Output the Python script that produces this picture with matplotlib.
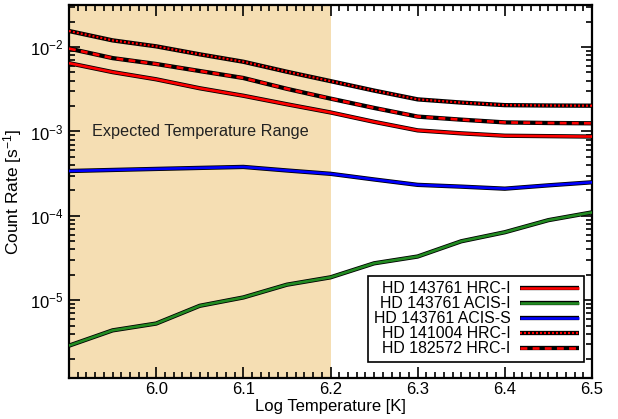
import matplotlib
matplotlib.use("Agg")
import matplotlib.pyplot as plt
from matplotlib.ticker import LogLocator, MultipleLocator, FixedLocator, NullFormatter

plt.rcParams['font.family'] = ['Liberation Sans', 'DejaVu Sans']
plt.rcParams['mathtext.fontset'] = 'custom'
plt.rcParams['mathtext.rm'] = 'Liberation Sans'
plt.rcParams['mathtext.it'] = 'Liberation Sans'

log_t = [5.90, 5.95, 6.00, 6.05, 6.10, 6.15, 6.20, 6.25, 6.30, 6.35, 6.40, 6.45, 6.50]
hd143761_hrci = [6.45e-3, 5.05e-3, 4.15e-3, 3.25e-3, 2.65e-3, 2.1e-3, 1.68e-3, 1.3e-3, 1.03e-3, 9.5e-4, 8.9e-4, 8.8e-4, 8.7e-4]
hd143761_acisi = [2.9e-6, 4.4e-6, 5.3e-6, 8.6e-6, 1.08e-5, 1.53e-5, 1.87e-5, 2.74e-5, 3.3e-5, 5.0e-5, 6.4e-5, 8.9e-5, 1.1e-4]
hd143761_aciss = [3.4e-4, 3.5e-4, 3.6e-4, 3.7e-4, 3.8e-4, 3.45e-4, 3.15e-4, 2.7e-4, 2.33e-4, 2.22e-4, 2.1e-4, 2.3e-4, 2.5e-4]
hd141004_hrci = [1.55e-2, 1.2e-2, 1.02e-2, 8.2e-3, 6.7e-3, 5.1e-3, 3.95e-3, 3.05e-3, 2.4e-3, 2.2e-3, 2.05e-3, 2.03e-3, 2.02e-3]
hd182572_hrci = [9.6e-3, 7.4e-3, 6.3e-3, 5.2e-3, 4.3e-3, 3.2e-3, 2.45e-3, 1.9e-3, 1.5e-3, 1.38e-3, 1.28e-3, 1.26e-3, 1.25e-3]

labels = ["HD 143761 HRC-I", "HD 143761 ACIS-I", "HD 143761 ACIS-S",
          "HD 141004 HRC-I", "HD 182572 HRC-I"]
expected_range = (5.9, 6.2)

fig = plt.figure(figsize=(6.18, 4.19), dpi=100)
ax = fig.add_axes([69/618, 41/419, 523/618, 373/419])

ax.axvspan(expected_range[0], expected_range[1], color='#F5DEB3', lw=0, zorder=0)

handles = []
blw, clw = 3.1, 1.9
b, = ax.plot(log_t, hd143761_hrci, color='black', lw=blw, solid_capstyle='butt', zorder=2)
c, = ax.plot(log_t, hd143761_hrci, color='#FF0000', lw=clw, solid_capstyle='butt', zorder=3)
handles.append((b, c))
b, = ax.plot(log_t, hd143761_acisi, color='black', lw=blw, solid_capstyle='butt', zorder=2)
c, = ax.plot(log_t, hd143761_acisi, color='#228B22', lw=clw, solid_capstyle='butt', zorder=3)
handles.append((b, c))
b, = ax.plot(log_t, hd143761_aciss, color='black', lw=blw, solid_capstyle='butt', zorder=2)
c, = ax.plot(log_t, hd143761_aciss, color='#0000FF', lw=clw, solid_capstyle='butt', zorder=3)
handles.append((b, c))
b, = ax.plot(log_t, hd141004_hrci, color='black', lw=blw, solid_capstyle='butt', zorder=2)
c, = ax.plot(log_t, hd141004_hrci, color='#FF0000', lw=clw - 0.3, linestyle=(0, (0.9, 0.9)), dash_capstyle='butt', zorder=3)
handles.append((b, c))
b, = ax.plot(log_t, hd182572_hrci, color='black', lw=blw, solid_capstyle='butt', zorder=2)
c, = ax.plot(log_t, hd182572_hrci, color='#FF0000', lw=clw, linestyle=(0, (2.6, 2.0)), dash_capstyle='butt', zorder=3)
handles.append((b, c))

ax.set_yscale('log')
ax.set_xlim(5.9, 6.5)
ax.set_ylim(1.2e-6, 3.15e-2)

ax.xaxis.set_major_locator(FixedLocator([6.0, 6.1, 6.2, 6.3, 6.4, 6.5]))
ax.xaxis.set_minor_locator(MultipleLocator(0.01))
ax.set_xticklabels(['6.0', '6.1', '6.2', '6.3', '6.4', '6.5'])
ax.yaxis.set_major_locator(LogLocator(base=10, numticks=10))
ax.yaxis.set_minor_locator(LogLocator(base=10, subs=range(2, 10), numticks=20))
ax.yaxis.set_minor_formatter(NullFormatter())

ax.tick_params(which='both', direction='in', top=True, right=True, labelsize=12, width=1.2)
ax.tick_params(which='major', length=8)
ax.tick_params(which='minor', length=4)
ax.tick_params(axis='x', pad=3)
ax.tick_params(axis='y', pad=4)
for s in ax.spines.values():
    s.set_linewidth(1.6)

ax.set_xlabel('Log Temperature [K]', fontsize=12, labelpad=1)
ax.set_ylabel('Count Rate [s$^{-1}$]', fontsize=12.5, labelpad=4)

ax.text(5.926, 1.0e-3, 'Expected Temperature Range', fontsize=11.7, ha='left', va='center', color='#222222')

leg = ax.legend(handles, labels, loc='lower right', bbox_to_anchor=(0.985, 0.043),
                borderaxespad=0, markerfirst=False, fancybox=False, framealpha=1,
                edgecolor='black', fontsize=11.4, handlelength=3.7, labelspacing=0.0,
                handletextpad=0.6, borderpad=0.35)
leg.get_frame().set_linewidth(1.2)

fig.savefig('out.png', dpi=100)
